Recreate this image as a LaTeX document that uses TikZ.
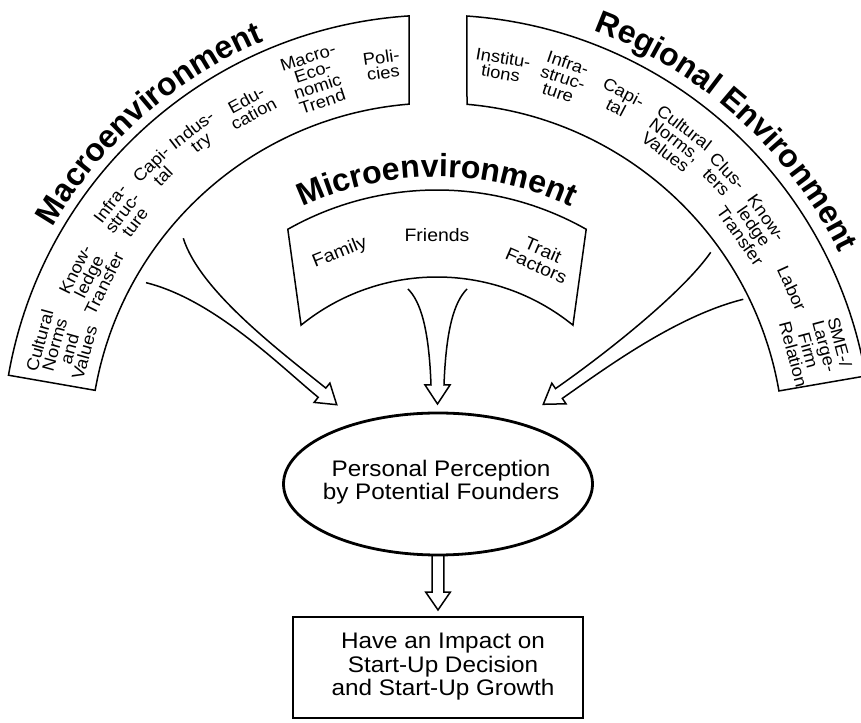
\documentclass[tikz,border=0pt]{standalone}
\usepackage{fontspec}
\setmainfont{Liberation Sans}[FakeStretch=1.08]
\newfontfamily\headfont{Liberation Sans}
\usetikzlibrary{calc,decorations.text}
\begin{document}
\begin{tikzpicture}[x=1pt,y=1pt,
  band/.style={draw=black, line width=1.5pt, line join=miter},
  bandlbl/.style={font=\fontsize{17}{15.5}\selectfont, align=center, inner sep=0pt},
  microlbl/.style={font=\fontsize{18}{17}\selectfont, align=center, inner sep=0pt},
  flow/.style={draw=black, line width=1.5pt, line join=miter, miter limit=20},
  bigtxt/.style={font=\fontsize{22.5}{23.5}\selectfont, align=center, inner sep=0pt},
  headline/.style={decorate, decoration={text along path, text align=center,
      text={|\headfont\bfseries\fontsize{32}{32}\selectfont|#1}}}
]
\useasboundingbox (0,0) rectangle (861,722);

% centres of the two families of arcs
\coordinate (C) at (437,272);
\coordinate (M) at (437,229);

% ---------- outer bands ----------
\draw[band] ($(C)+(170.1:435)$) arc[start angle=170.1, end angle=93.69, radius=435]
  -- ($(C)+(94.63:347)$) arc[start angle=94.63, end angle=170.1, radius=347] -- cycle;
\draw[band] ($(C)+(86.05:435)$) arc[start angle=86.05, end angle=9.8, radius=435]
  -- ($(C)+(9.8:347)$) arc[start angle=9.8, end angle=85.04, radius=347] -- cycle;

% ---------- inner band ----------
\draw[band] ($(M)+(119.5:303)$) arc[start angle=119.5, end angle=60.5, radius=303]
  -- ($(M)+(51:216)$) arc[start angle=51, end angle=129, radius=216] -- cycle;

% ---------- headings along the arcs ----------
\path[headline=Macroenvironment] ($(C)+(161.4:444)$) arc[start angle=161.4, end angle=101.4, radius=444];
\path[headline=Regional Environment] ($(C)+(77.8:448)$) arc[start angle=77.8, end angle=17.8, radius=448];
\path[headline=Microenvironment] ($(M)+(120:316)$) arc[start angle=120, end angle=60, radius=316];

% ---------- factors of the macroenvironment ----------
\foreach \ang/\rad/\txt [count=\i] in {
    164.6/389/{Cultural\\Norms\\and\\Values},
    153.5/388/{Know-\\ledge\\Transfer},
    143.0/394/{Infra-\\struc-\\ture},
    135.0/396/{Capi-\\tal},
    127.5/394/{Indus-\\try},
    118.6/391/{Edu-\\cation},
    108.2/390/{Macro-\\Eco-\\nomic\\Trend},
    98.1/389/{Poli-\\cies}}
  \node[bandlbl, rotate=\ang-90] (macro-\i) at ($(C)+(\ang:\rad)$) {\txt};

% ---------- factors of the regional environment ----------
\foreach \ang/\rad/\txt [count=\i] in {
    80.4/390/{Institu-\\tions},
    71.3/393/{Infra-\\struc-\\ture},
    62.4/395/{Capi-\\tal},
    52.5/391/{Cultural\\Norms,\\Values},
    43.8/395/{Clus-\\ters},
    35.2/387/{Know-\\ledge\\Transfer},
    24.5/390/{Labor},
    15.0/393/{SME-/\\Large-\\Firm\\Relation}}
  \node[bandlbl, rotate=\ang-90] (region-\i) at ($(C)+(\ang:\rad)$) {\txt};

% ---------- factors of the microenvironment ----------
\node[microlbl, rotate=22] (family) at ($(M)+(112:259)$) {Family};
\node[microlbl] (friends) at ($(M)+(90:258)$) {Friends};
\node[microlbl, rotate=-23.6] (trait) at ($(M)+(66.4:257)$) {Trait\\Factors};

% ---------- perception and outcome ----------
\node[bigtxt] (perc) at (441,240) {Personal Perception\\by Potential Founders};
\coordinate (perc-c) at (438,238);
\draw[line width=2.8pt] (perc-c) ellipse[x radius=154.5, y radius=71];
\coordinate (perc-s) at ($(perc-c)+(0,-71)$);

\node[draw, line width=1.5pt, minimum width=290, minimum height=101, inner sep=0pt] (impact) at (438,54.5) {};
\node[bigtxt] (impact-txt) at (443,55) {Have an Impact on\\Start-Up Decision\\and Start-Up Growth};

% ---------- hollow arrows ----------
% from the macroenvironment
\coordinate (L-a0) at (183.3,483.7);
\coordinate (L-a1) at (325.8,333.9);
\coordinate (L-wa) at (329.9,338.9);
\coordinate (L-tip) at (336.7,317.3);
\coordinate (L-wb) at (314.1,319.6);
\coordinate (L-b1) at (318.2,324.7);
\coordinate (L-b0) at (146,439.3);
\draw[flow] (L-a0) .. controls (199.8,431.4) and (279,371.7) .. (L-a1) -- (L-wa) -- (L-tip)
  -- (L-wb) -- (L-b1) .. controls (279.6,356.4) and (213.9,422.5) .. (L-b0);

% from the microenvironment
\coordinate (M-a0) at (408,433);
\coordinate (M-a1) at (431,337);
\coordinate (M-wa) at (425,337);
\coordinate (M-tip) at (437.5,318);
\coordinate (M-wb) at (450,337);
\coordinate (M-b1) at (444,337);
\coordinate (M-b0) at (467,433);
\draw[flow] (M-a0) .. controls (421,420) and (429,392) .. (M-a1) -- (M-wa) -- (M-tip)
  -- (M-wb) -- (M-b1) .. controls (446,392) and (454,420) .. (M-b0);

% from the regional environment
\coordinate (R-a0) at (710.7,469.7);
\coordinate (R-a1) at (555.5,333.4);
\coordinate (R-wa) at (551.8,338.8);
\coordinate (R-tip) at (543.3,317.7);
\coordinate (R-wb) at (566.0,318.2);
\coordinate (R-b1) at (562.3,323.6);
\coordinate (R-b0) at (743.3,422.7);
\draw[flow] (R-a0) .. controls (682.2,428.7) and (604.7,367.7) .. (R-a1) -- (R-wa) -- (R-tip)
  -- (R-wb) -- (R-b1) .. controls (603.3,352.15) and (675.4,405.9) .. (R-b0);

% from the perception to the outcome
\coordinate (D-tip) at ($(impact.north)+(0,6.3)$);
\draw[flow] ($(perc-s)+(-5.8,0)$) -- ($(D-tip)+(-5.8,17.7)$) -- ($(D-tip)+(-12.2,17.7)$) -- (D-tip)
  -- ($(D-tip)+(12.2,17.7)$) -- ($(D-tip)+(5.8,17.7)$) -- ($(perc-s)+(5.8,0)$);
\end{tikzpicture}
\end{document}
